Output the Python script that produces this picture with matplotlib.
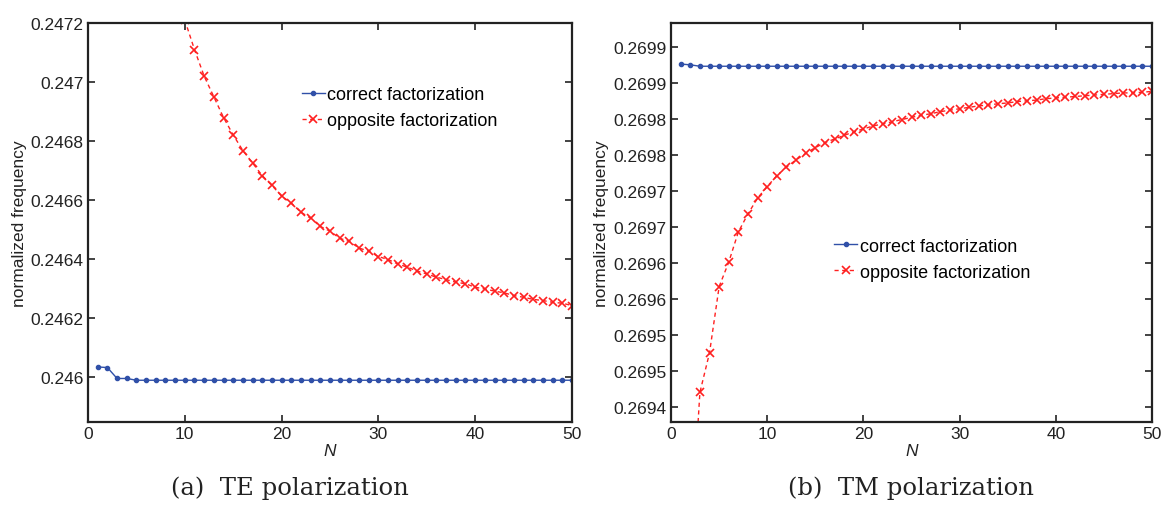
import matplotlib
matplotlib.use("Agg")
import matplotlib.pyplot as plt

plt.rcParams['font.family'] = ['Liberation Sans', 'DejaVu Sans']

# TE polarization (a)
te_n_correct = list(range(1, 51))
te_correct = [0.246035, 0.246033, 0.245996, 0.245996] + [0.24599] * 46
te_n_opposite = list(range(10, 51))
te_opposite = [0.24721, 0.24711, 0.24702, 0.24695, 0.24688, 0.246821, 0.246768,
               0.246726, 0.246683, 0.24665, 0.246614, 0.24659, 0.246559, 0.246539,
               0.246511, 0.246495, 0.246471, 0.24646, 0.246438, 0.246427, 0.246409,
               0.246399, 0.246384, 0.246373, 0.24636, 0.24635, 0.246339, 0.246331,
               0.246322, 0.246317, 0.246305, 0.246299, 0.246292, 0.246286, 0.246277,
               0.246271, 0.246264, 0.24626, 0.246254, 0.246251, 0.246243]
te_yticks = [0.246, 0.2462, 0.2464, 0.2466, 0.2468, 0.247, 0.2472]
te_ylabels = ['0.246', '0.2462', '0.2464', '0.2466', '0.2468', '0.247', '0.2472']

# TM polarization (b)
tm_n_correct = list(range(1, 51))
tm_correct = [0.269876, 0.269875] + [0.269873] * 48
tm_n_opposite = list(range(2, 51))
tm_opposite = [0.26920, 0.269420, 0.269475, 0.269567, 0.269601, 0.269643, 0.269668,
               0.269690, 0.269706, 0.269721, 0.269733, 0.269743, 0.269752, 0.269760,
               0.269767, 0.269772, 0.269777, 0.269782, 0.269786, 0.269790, 0.269793,
               0.269796, 0.269799, 0.269802, 0.269805, 0.269807, 0.269810, 0.269812,
               0.269814, 0.269816, 0.269818, 0.269819, 0.269821, 0.269822, 0.269824,
               0.269825, 0.269826, 0.269828, 0.269829, 0.269830, 0.269831, 0.269832,
               0.269833, 0.269834, 0.269835, 0.269836, 0.269836, 0.269837, 0.269838]
tm_yticks = [0.26940, 0.26945, 0.26950, 0.26955, 0.26960, 0.26965, 0.26970,
             0.26975, 0.26980, 0.26985, 0.26990]
tm_ylabels = ['0.2694', '0.2695', '0.2695', '0.2696', '0.2696', '0.2697', '0.2697',
              '0.2698', '0.2698', '0.2699', '0.2699']

xticks = [0, 10, 20, 30, 40, 50]

BLUE = '#3050a8'
RED = '#ff2020'

fig = plt.figure(figsize=(11.66, 5.06), dpi=100)
ax1 = fig.add_axes([0.0755, 0.164, 0.415, 0.7885])
ax2 = fig.add_axes([0.5755, 0.164, 0.4125, 0.7885])


def style(ax, yticks, ylabels, ylim):
    ax.set_xlim(0, 50)
    ax.set_ylim(*ylim)
    ax.set_xticks(xticks)
    ax.set_yticks(yticks)
    ax.set_yticklabels(ylabels)
    ax.tick_params(direction='in', top=True, right=True, length=5, width=1.2,
                   labelsize=12.5, colors='#222222', pad=3)
    for s in ax.spines.values():
        s.set_linewidth(1.6)
        s.set_color('#222222')
    ax.set_xlabel('N', style='italic', fontsize=12.5, labelpad=1, color='#222222')
    ax.set_ylabel('normalized frequency', fontsize=12.5, labelpad=3, color='#222222')


def draw(ax, nc, yc, no, yo):
    ax.plot(nc, yc, '-', color=BLUE, marker='.', markersize=6,
            linewidth=1.0, label='correct factorization')
    ax.plot(no, yo, '--', color=RED, marker='x', markersize=6,
            markeredgewidth=1.2, linewidth=1.0, dashes=(3, 2.5),
            label='opposite factorization')


def legend(ax, anchor):
    ax.legend(loc='upper left', bbox_to_anchor=anchor, frameon=False,
              fontsize=13, handlelength=1.3, handletextpad=0.12, labelspacing=0.5,
              borderpad=0)


draw(ax1, te_n_correct, te_correct, te_n_opposite, te_opposite)
style(ax1, te_yticks, te_ylabels, (0.2458485, 0.2472))
legend(ax1, (0.423, 0.865))

draw(ax2, tm_n_correct, tm_correct, tm_n_opposite, tm_opposite)
style(ax2, tm_yticks, tm_ylabels, (0.269379, 0.269933))
legend(ax2, (0.32, 0.485))

fig.text(0.249, 0.036, '(a)  TE polarization', ha='center', va='center',
         fontsize=17.5, family='DejaVu Serif', color='#222222')
fig.text(0.781, 0.036, '(b)  TM polarization', ha='center', va='center',
         fontsize=17.5, family='DejaVu Serif', color='#222222')

fig.savefig('out.png', dpi=100)
